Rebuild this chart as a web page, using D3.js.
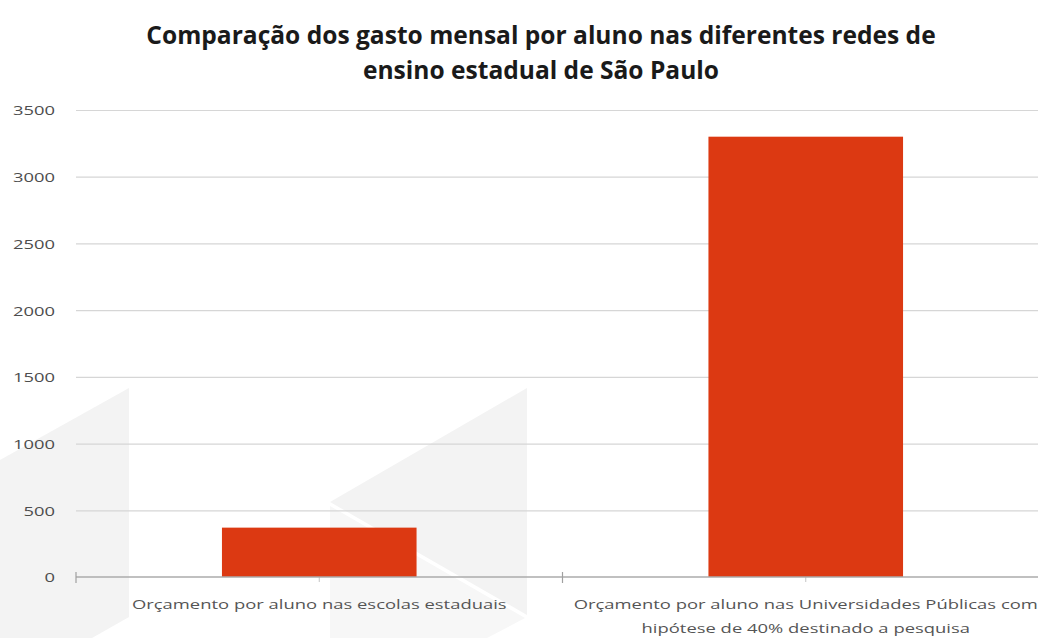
<!DOCTYPE html>
<html>
<head>
<meta charset="utf-8">
<script src="https://cdn.jsdelivr.net/npm/d3@7"></script>
<style>
  html, body { margin: 0; padding: 0; background: #ffffff; }
  svg { display: block; }
</style>
</head>
<body>
<script>
// Monthly spend per student in the São Paulo state education networks
const categories = [
  "Orçamento por aluno nas escolas estaduais",
  "Orçamento por aluno nas Universidades Públicas com hipótese de 40% destinado a pesquisa"
];
const categoryLines = [
  ["Orçamento por aluno nas escolas estaduais"],
  ["Orçamento por aluno nas Universidades Públicas com", "hipótese de 40% destinado a pesquisa"]
];
const values = [370, 3300];
const yTicks = [0, 500, 1000, 1500, 2000, 2500, 3000, 3500];
const titleLines = [
  "Comparação dos gasto mensal por aluno nas diferentes redes de",
  "ensino estadual de São Paulo"
];

const W = 1038, H = 638;
const plot = { left: 76, right: 1049, top: 110, bottom: 577 };
const barColor = "#dc3912";
const labelFont = "'Open Sans', 'DejaVu Sans', sans-serif";

const svg = d3.select("body").append("svg")
  .attr("width", W).attr("height", H)
  .attr("viewBox", `0 0 ${W} ${H}`);

// faint background logo chevrons
const logoShapes = [
  { pts: [[0, 460], [129, 388], [129, 617], [92, 638], [0, 638]], fill: "#f3f3f3" },
  { pts: [[330, 502], [527, 388], [527, 615]], fill: "#f3f3f3" },
  { pts: [[330, 506], [525, 618], [487, 638], [330, 638]], fill: "#f7f7f7" }
];
svg.append("g").selectAll("polygon").data(logoShapes).join("polygon")
  .attr("points", d => d.pts.map(p => p.join(",")).join(" "))
  .attr("fill", d => d.fill);

// horizontal stretch helper: scale a text so that a reference string spans a given width
function stretchFor(text, size, weight, family, target) {
  const t = svg.append("text").attr("font-size", size).attr("font-weight", weight)
    .attr("font-family", family).text(text);
  const w = t.node().getComputedTextLength();
  t.remove();
  return target / w;
}

const x = d3.scaleBand().domain(categories)
  .range([plot.left, plot.right]).paddingInner(0.6).paddingOuter(0.3);
const y = d3.scaleLinear().domain([0, 3500]).range([plot.bottom, plot.top]);

// title
const titleSize = 25;
const titleSx = stretchFor(titleLines[0], titleSize, 700, labelFont, 790);
const title = svg.append("g").attr("transform", "translate(541,0)");
title.selectAll("text").data(titleLines).join("text")
  .attr("transform", (d, i) => `translate(0,${44 + i * 35}) scale(${titleSx},1)`)
  .attr("text-anchor", "middle")
  .attr("font-family", labelFont)
  .attr("font-size", titleSize)
  .attr("font-weight", 700)
  .attr("fill", "#1a1a1a")
  .text(d => d);

// gridlines and value axis
const ySize = 13.5;
const ySx = stretchFor("3500", ySize, 400, labelFont, 42);
const gy = svg.append("g")
  .attr("transform", `translate(${plot.left},0)`)
  .call(d3.axisLeft(y).tickValues(yTicks).tickFormat(d3.format("d"))
    .tickSize(-(plot.right - plot.left)).tickPadding(21));
gy.select(".domain").remove();
gy.selectAll(".tick line")
  .attr("stroke", "#d6d6d6").attr("stroke-width", 1.2);
gy.selectAll(".tick").filter(d => d === 0).select("line").remove();
gy.selectAll(".tick text")
  .attr("x", null)
  .attr("dy", "0.36em")
  .attr("transform", `translate(-21,0) scale(${ySx},1)`)
  .attr("font-family", labelFont)
  .attr("font-size", ySize)
  .attr("fill", "#4d4d4d");

// bars
svg.append("g").selectAll("rect").data(values).join("rect")
  .attr("x", (d, i) => x(categories[i]))
  .attr("width", x.bandwidth())
  .attr("y", d => y(d))
  .attr("height", d => y(0) - y(d))
  .attr("fill", barColor);

// category axis: baseline, boundary ticks and faint centre ticks
const y0 = y(0);
const gx = svg.append("g")
  .attr("transform", `translate(0,${y0})`)
  .call(d3.axisBottom(x).tickSize(5).tickFormat(""));
gx.select(".domain").remove();
gx.selectAll(".tick line").attr("stroke", "#c4c4c4").attr("stroke-width", 1);

svg.append("line")
  .attr("x1", plot.left).attr("x2", plot.right)
  .attr("y1", y0).attr("y2", y0)
  .attr("stroke", "#ababab").attr("stroke-width", 1.3);

const boundaries = d3.range(categories.length + 1)
  .map(i => x(categories[0]) - x.step() * x.paddingOuter() + i * x.step());
svg.append("g").selectAll("line").data(boundaries).join("line")
  .attr("x1", d => d).attr("x2", d => d)
  .attr("y1", y0 - 5).attr("y2", y0 + 6)
  .attr("stroke", "#a0a0a0").attr("stroke-width", 1.2);

// category labels
const xSize = 13;
const xSx = stretchFor(categoryLines[0][0], xSize, 400, labelFont, 375);
const labels = svg.append("g").selectAll("g").data(categories).join("g")
  .attr("transform", d => `translate(${x(d) + x.bandwidth() / 2},0)`);
labels.each(function (d, i) {
  d3.select(this).selectAll("text").data(categoryLines[i]).join("text")
    .attr("transform", (t, j) => `translate(0,${609 + j * 24}) scale(${xSx},1)`)
    .attr("text-anchor", "middle")
    .attr("font-family", labelFont)
    .attr("font-size", xSize)
    .attr("fill", "#555555")
    .text(t => t);
});
</script>
</body>
</html>
